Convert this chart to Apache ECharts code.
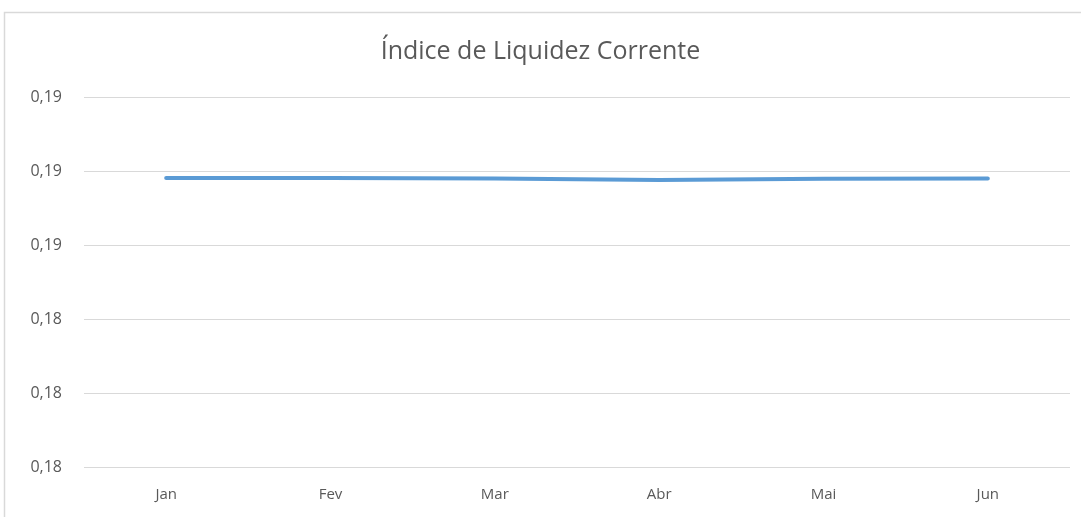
<!DOCTYPE html>
<html><head><meta charset="utf-8">
<script src="https://cdn.jsdelivr.net/npm/echarts@6/dist/echarts.min.js"></script>
<style>html,body{margin:0;padding:0;background:#fff}#c{width:1081px;height:517px}</style>
</head><body><div id="c"></div>
<script>
const categories = ['Jan','Fev','Mar','Abr','Mai','Jun'];
const values = [0.18781, 0.18781, 0.18780, 0.18776, 0.18779, 0.18780];
const yMin = 0.180, yMax = 0.190, yInterval = 0.002;
const titleText = 'Índice de Liquidez Corrente';

const chart = echarts.init(document.getElementById('c'));
chart.setOption({
  animation: false,
  backgroundColor: '#fff',
  graphic: [{type:'rect', shape:{x:4.5,y:12.5,width:1200,height:700}, style:{fill:'none', stroke:'#d9d9d9', lineWidth:1.5}, silent:true}],
  title: {text: titleText, left: 'center', top: 34, textStyle:{fontFamily:'Open Sans', fontWeight:'normal', fontSize:25, color:'#595959'}},
  grid: {left: 84, right: 11, top: 97, bottom: 50},
  xAxis: {type:'category', data: categories, boundaryGap:true,
    axisLine:{show:false}, axisTick:{show:false},
    axisLabel:{color:'#595959', fontFamily:'Open Sans', fontSize:15, margin:20}},
  yAxis: {type:'value', min:yMin, max:yMax, interval:yInterval,
    axisLine:{show:false}, axisTick:{show:false},
    splitLine:{lineStyle:{color:'#d9d9d9', width:1}},
    axisLabel:{color:'#595959', fontFamily:'Open Sans', fontSize:16, margin:22,
      formatter: v => v.toFixed(2).replace('.', ',')}},
  series: [{type:'line', data: values, symbol:'none', smooth:false,
    lineStyle:{color:'#5b9bd5', width:4, cap:'round'}}]
});
</script></body></html>
